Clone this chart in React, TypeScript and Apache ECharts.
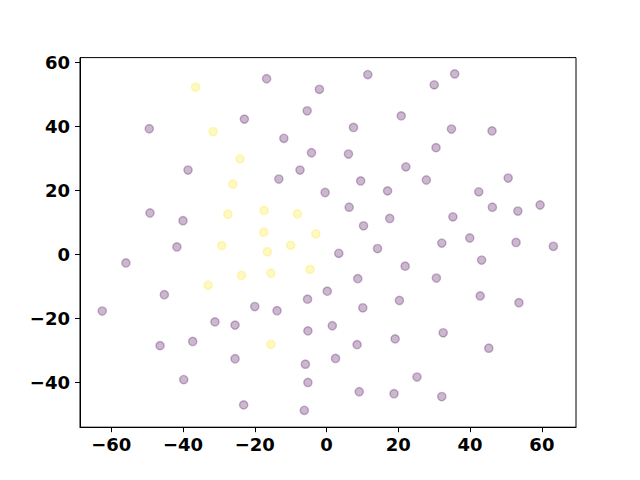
import React, { useEffect, useRef } from "react";
import * as echarts from "echarts";

const xTicks = [-60, -40, -20, 0, 20, 40, 60];
const yTicks = [-40, -20, 0, 20, 40, 60];

const purplePoints: number[][] = [
  [-22.9, 42.2], [-49.4, 39.2], [-38.6, 26.3], [-49.2, 12.9], [-40.0, 10.5], [-41.7, 2.3],
  [-16.7, 54.8], [11.5, 56.1], [-2.0, 51.5], [-5.4, 44.8], [20.8, 43.2], [7.5, 39.6],
  [-11.9, 36.2], [-4.2, 31.7], [6.1, 31.3], [22.1, 27.3], [-7.4, 26.3], [-13.3, 23.5],
  [9.5, 22.9], [-0.4, 19.3], [17.0, 19.8], [6.3, 14.7], [17.6, 11.2], [10.3, 8.9], [14.2, 1.8],
  [35.7, 56.3], [30.0, 52.9], [34.8, 39.1], [46.1, 38.5], [30.5, 33.3], [27.8, 23.2],
  [50.6, 23.8], [42.4, 19.5], [46.2, 14.7], [53.3, 13.5], [59.5, 15.4], [35.2, 11.7],
  [32.1, 3.5], [39.9, 5.1], [52.8, 3.7], [63.2, 2.5],
  [-55.9, -2.7], [-45.2, -12.6], [-62.5, -17.7], [-31.1, -21.1], [-25.5, -22.1],
  [-46.4, -28.5], [-37.3, -27.2], [-25.5, -32.6], [-39.8, -39.1], [-23.1, -47.0],
  [3.4, 0.3], [21.9, -3.7], [8.7, -7.6], [0.2, -11.5], [-5.3, -14.0], [-20.0, -16.3],
  [-13.8, -17.6], [10.1, -16.7], [20.3, -14.4], [-5.2, -23.9], [1.6, -22.3], [8.5, -28.2],
  [19.1, -26.4], [2.5, -32.5], [-5.9, -34.3], [-5.2, -40.0], [9.1, -42.9], [18.8, -43.5],
  [-6.2, -48.7],
  [43.2, -1.8], [30.6, -7.4], [42.8, -13.0], [53.6, -15.1], [32.5, -24.5], [45.2, -29.3],
  [25.2, -38.3], [32.1, -44.4],
];

const yellowPoints: number[][] = [
  [-36.5, 52.2], [-31.6, 38.3], [-24.1, 29.8], [-26.1, 21.9], [-27.5, 12.5], [-17.4, 13.7],
  [-8.1, 12.6], [-17.5, 6.9], [-3.0, 6.4], [-29.2, 2.7], [-10.0, 2.8], [-16.5, 0.8],
  [-23.7, -6.6], [-33.0, -9.6], [-15.5, -5.9], [-4.6, -4.7], [-15.5, -28.1],
];

const fmt = (v: number) => String(v).replace("-", "\u2212");

export default function App() {
  const ref = useRef<HTMLDivElement>(null);
  useEffect(() => {
    if (!ref.current) return;
    const chart = echarts.init(ref.current, undefined, { renderer: "svg" });
    const labelStyle = {
      fontFamily: "DejaVu Sans",
      fontWeight: "bold" as const,
      fontSize: 18,
      color: "#000",
      formatter: (v: number) => fmt(v),
    };
    const axisLine = { show: true, onZero: false, lineStyle: { color: "#000", width: 1 } };
    chart.setOption({
      animation: false,
      backgroundColor: "#fff",
      grid: {
        left: 80,
        right: 64,
        top: 57.6,
        bottom: 52.8,
        show: true,
        borderColor: "#000",
        borderWidth: 1,
        backgroundColor: "transparent",
      },
      xAxis: {
        type: "value",
        min: -68.7,
        max: 69.5,
        splitLine: { show: false },
        axisLine,
        axisTick: { show: true, length: 5, customValues: xTicks, lineStyle: { color: "#000", width: 1 } },
        axisLabel: { ...labelStyle, margin: 8, customValues: xTicks },
      },
      yAxis: {
        type: "value",
        min: -53.96,
        max: 61.4,
        splitLine: { show: false },
        axisLine,
        axisTick: { show: true, length: 5, customValues: yTicks, lineStyle: { color: "#000", width: 1 } },
        axisLabel: { ...labelStyle, margin: 10, customValues: yTicks },
      },
      series: [
        {
          type: "scatter",
          data: purplePoints,
          symbolSize: 8.3,
          itemStyle: {
            color: "rgba(68,1,84,0.35)",
            borderColor: "rgba(68,1,84,0.35)",
            borderWidth: 1.4,
          },
        },
        {
          type: "scatter",
          data: yellowPoints,
          symbolSize: 8.3,
          itemStyle: {
            color: "rgba(253,231,37,0.35)",
            borderColor: "rgba(253,231,37,0.35)",
            borderWidth: 1.4,
          },
        },
      ],
    });
    return () => chart.dispose();
  }, []);
  return (
    <div
      ref={ref}
      style={{ position: "fixed", left: 0, top: 0, width: 640, height: 480 }}
    />
  );
}
